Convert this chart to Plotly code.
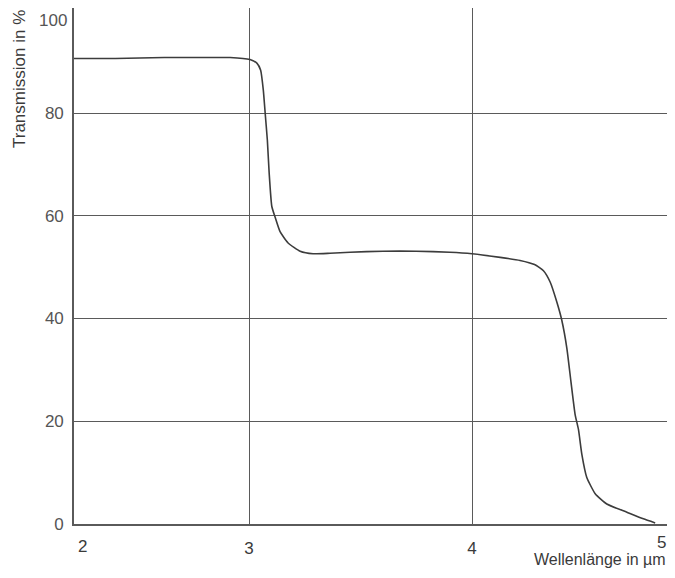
import plotly.graph_objects as go

# Wavelength (µm) and transmission (%)
wavelength = [2.215, 2.40, 2.62, 2.80, 2.915, 3.004, 3.035, 3.052, 3.064, 3.072, 3.082, 3.090,
              3.102, 3.117, 3.139, 3.175, 3.229, 3.287, 3.363, 3.453, 3.60, 3.75, 3.90, 4.00,
              4.126, 4.215, 4.280, 4.320, 4.350, 4.380, 4.402, 4.425, 4.443, 4.462, 4.477,
              4.492, 4.514, 4.552, 4.604, 4.694, 4.768, 4.821]
transmission = [90.6, 90.6, 90.8, 90.8, 90.8, 90.4, 89.7, 88.3, 84.4, 80.1, 74.7, 68.4,
                61.8, 59.7, 56.9, 54.7, 53.1, 52.6, 52.7, 52.9, 53.1, 53.1, 52.9, 52.6,
                51.9, 51.3, 50.5, 49.3, 47.1, 43.2, 39.7, 34.2, 27.8, 21.3, 18.4,
                13.6, 9.1, 5.9, 3.9, 2.3, 1.0, 0.2]

y_ticks = [0, 20, 40, 60, 80]
x_ticks = [3, 4]
x_extra_labels = ["2", "5"]

axis_col = "#5a5a5a"
font_col = "#3a3a3a"

fig = go.Figure()
fig.add_trace(go.Scatter(x=wavelength, y=transmission, mode="lines",
                         line=dict(color="#3c3c3c", width=1.6, shape="spline", smoothing=0.5),
                         showlegend=False, hoverinfo="skip"))

fig.update_layout(
    width=659, height=562,
    margin=dict(l=66, r=0, t=0, b=46),
    paper_bgcolor="white", plot_bgcolor="white",
    font=dict(family="Liberation Sans, Arial, sans-serif", size=17, color=font_col),
    xaxis=dict(range=[2.215, 4.874], tickvals=x_ticks, ticktext=[str(v) for v in x_ticks],
               showgrid=True, gridcolor=axis_col, gridwidth=1.4,
               showline=True, linecolor=axis_col, linewidth=1.6,
               zeroline=False, ticks="", ticklabelstandoff=8,
               tickfont=dict(size=17, color=font_col)),
    yaxis=dict(range=[0, 100.44], tickvals=y_ticks, ticktext=[str(v) for v in y_ticks],
               showgrid=True, gridcolor=axis_col, gridwidth=1.4,
               showline=True, linecolor=axis_col, linewidth=1.6,
               zeroline=False, ticks="", ticklabelstandoff=5,
               tickfont=dict(size=17, color="#555555")),
)

annotations = [
    dict(text="100", x=0.0, xref="paper", y=100, yref="y", xanchor="right", yanchor="middle",
         xshift=-5, yshift=-10, showarrow=False, font=dict(size=17, color="#555555")),
    dict(text=x_extra_labels[0], x=0.0, xref="paper", y=0, yref="paper", xanchor="center",
         yanchor="top", xshift=8, yshift=-11, showarrow=False, font=dict(size=17, color=font_col)),
    dict(text=x_extra_labels[1], x=1.0, xref="paper", y=0, yref="paper", xanchor="right",
         yanchor="top", xshift=0, yshift=-8, borderpad=0, showarrow=False,
         font=dict(size=17, color=font_col)),
    dict(text="Wellenlänge in µm", x=1.0, xref="paper", y=0, yref="paper", xanchor="right",
         yanchor="top", xshift=0, yshift=-26, borderpad=0, showarrow=False,
         font=dict(size=16, color=font_col)),
    dict(text="Transmission in %", x=0, xref="paper", y=1.0, yref="paper", xanchor="center",
         yanchor="top", xshift=-55, yshift=0, textangle=-90, showarrow=False,
         font=dict(size=17, color=font_col)),
]
fig.update_layout(annotations=annotations)

fig.write_html("out.html")
